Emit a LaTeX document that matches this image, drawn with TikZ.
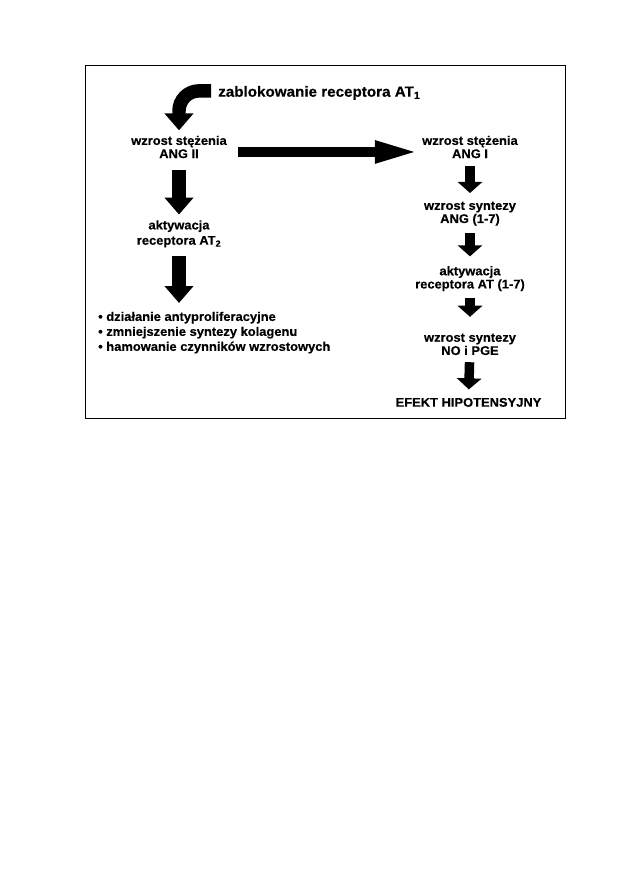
\documentclass[tikz,border=0pt]{standalone}
\usepackage{fontspec}
\setmainfont[FakeStretch=1.03,BoldFeatures={FakeBold=0.4}]{Liberation Sans}
\usetikzlibrary{arrows.meta}

\begin{document}
\begin{tikzpicture}[x=0.9486pt,y=-0.9486pt]
      \useasboundingbox (0,0) rectangle (630,893);

      % Styles
      \tikzset{Label/.style = {inner sep=0pt, align=center,
                font=\bfseries\fontsize{11.9}{12.5}\selectfont}}
      \tikzset{BigArrow/.style = {line width=12.8pt,
                -{Triangle[length=16pt,width=26.5pt]}}}
      \tikzset{SmallArrow/.style = {line width=9pt,
                -{Triangle[length=10.5pt,width=23pt]}}}
      \tikzset{LongArrow/.style = {line width=9.5pt,
                -{Triangle[length=42.7pt,width=19pt]}}}

      % Frame
      \draw[line width=0.9pt] (85,65) rectangle (565,418);

      % Nodes
      \node[Label, anchor=base west,
            font=\bfseries\fontsize{14}{16}\selectfont] (blok) at (218,96.7)
            {zablokowanie receptora AT\textsubscript{1}};
      \node[Label] (ang2L) at (179,147)   {wzrost stężenia\\ANG II};
      \node[Label] (akt2L) at (179,233.8) {aktywacja\\[2pt]receptora AT\textsubscript{2}};
      \node[Label, anchor=north west, align=left,
            font=\bfseries\fontsize{11.9}{14.2}\selectfont] (skutki) at (98,311.6)
            {• działanie antyproliferacyjne\\
             • zmniejszenie syntezy kolagenu\\
             • hamowanie czynników wzrostowych};
      \node[Label] (ang1R) at (470,147)   {wzrost stężenia\\ANG I};
      \node[Label] (syntR) at (470,213.6) {wzrost syntezy\\ANG (1-7)};
      \node[Label] (aktR)  at (470,278.6) {aktywacja\\receptora AT (1-7)};
      \node[Label] (noR)   at (470,344.3) {wzrost syntezy\\NO i PGE};
      \node[Label, anchor=base] (efekt) at (468.5,406.7) {EFEKT HIPOTENSYJNY};

      % Arrows
      \draw[BigArrow, rounded corners=19pt, shorten <=6.6pt, shorten >=5pt]
            ([yshift=1.9pt]blok.west) -| (ang2L.north);
      \draw[LongArrow, shorten <=10.4pt, shorten >=2pt]
            ([yshift=-4.7pt]ang2L.east) -- ([yshift=-4.7pt]ang1R.west);
      \draw[BigArrow, shorten <=11.4pt, shorten >=5.3pt] (ang2L) -- (akt2L);
      \draw[BigArrow, shorten <=7.6pt, shorten >=8.2pt]
            (akt2L.south) -- (akt2L.south |- skutki.north);
      \draw[SmallArrow, shorten <=7.6pt, shorten >=8pt] (ang1R) -- (syntR);
      \draw[SmallArrow, shorten <=7pt, shorten >=9.1pt] (syntR) -- (aktR);
      \draw[SmallArrow, shorten <=6pt, shorten >=15.7pt] (aktR) -- (noR);
      \draw[SmallArrow, shorten <=6.6pt, shorten >=7.9pt] (noR) -- (efekt);
\end{tikzpicture}
\end{document}
